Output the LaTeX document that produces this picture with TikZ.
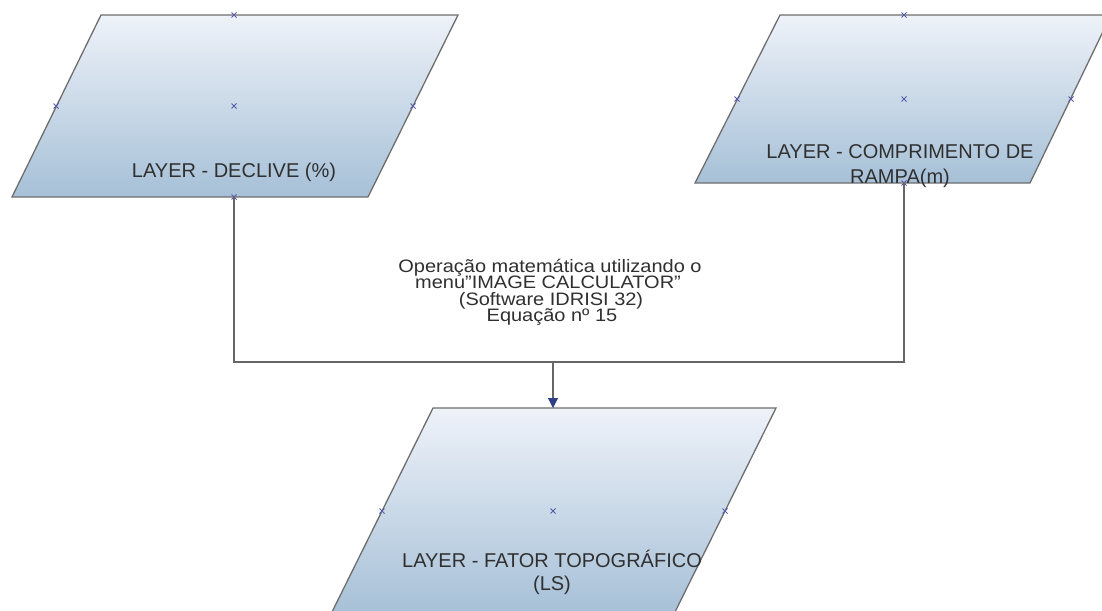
\documentclass[tikz,border=0pt]{standalone}
\usepackage{fontspec}
\setmainfont{Liberation Sans}
\usetikzlibrary{arrows.meta}

\definecolor{edgegray}{HTML}{6E6E6E}
\definecolor{shadetop}{HTML}{EEF2F9}
\definecolor{shademid}{HTML}{D3DFEC}
\definecolor{shadebot}{HTML}{A6C0D7}
\definecolor{handlecol}{HTML}{5A5AAA}
\definecolor{tipblue}{HTML}{2E3F86}
\definecolor{wiregray}{HTML}{666666}
\definecolor{inkgray}{HTML}{303030}

\tikzset{
  layer/.style={draw=edgegray, line width=1.3pt, top color=shadetop,
    middle color=shademid, bottom color=shadebot},
  boxtext/.style={font=\fontsize{20}{25}\selectfont, text=inkgray,
    anchor=base, inner sep=0pt},
  optext/.style={font=\fontsize{18}{20}\selectfont, text=inkgray,
    anchor=base, inner sep=0pt},
  link/.style={draw=wiregray, line width=1.2pt},
  handle/.pic={\draw[handlecol, line width=0.8pt]
    (-2.5pt,-2.5pt) -- (2.5pt,2.5pt) (-2.5pt,2.5pt) -- (2.5pt,-2.5pt);}
}

\newcommand{\wide}[1]{\scalebox{1.11}[1]{#1}}
\newcommand{\dq}{\char"22\relax}

\begin{document}
\begin{tikzpicture}[x=1pt, y=-1pt]
  \clip (0,0) rectangle (1102,610);
  \fill[white] (0,0) rectangle (1102,610);

  % slope layer (top left)
  \path[layer] (12,197) -- (368,197) -- (458,15) -- (101,15) -- cycle;
  \node[boxtext] (slope) at (234,177) {LAYER - DECLIVE (\%)};
  \coordinate (slope-out) at (234,197);
  \foreach \p in {(234,15),(56,106),(234,106),(413,106),(234,197)}
    \pic at \p {handle};

  % ramp length layer (top right)
  \path[layer] (695,183) -- (1030,183) -- (1111,15) -- (780,15) -- cycle;
  \node[boxtext] (ramp1) at (900,158) {LAYER - COMPRIMENTO DE};
  \node[boxtext] (ramp2) at (900,183) {RAMPA(m)};
  \coordinate (ramp-out) at (904,183);
  \foreach \p in {(904,15),(737,99),(904,99),(1071,99),(904,183)}
    \pic at \p {handle};

  % topographic factor layer (bottom)
  \path[layer] (331,614) -- (674,614) -- (776,408) -- (433,408) -- cycle;
  \node[boxtext] (ls1) at (552,567) {LAYER - FATOR TOPOGRÁFICO};
  \node[boxtext] (ls2) at (552,590) {(LS)};
  \coordinate (ls-in) at (553,408);
  \foreach \p in {(382,511),(553,511),(725,511)}
    \pic at \p {handle};

  % operation description
  \node[optext] (op1) at (550,272.5) {\wide{Operação matemática utilizando o}};
  \node[optext] (op2) at (548,288.8) {\wide{menu\dq IMAGE CALCULATOR\dq}};
  \node[optext] (op3) at (551,305.1) {\wide{(Software IDRISI 32)}};
  \node[optext] (op4) at (552,321.4) {\wide{Equação nº 15}};

  % connectors
  \coordinate (join) at (553,362);
  \draw[link] (slope-out) |- (join) -| (ramp-out);
  \draw[link, -{Triangle[length=10pt, width=10pt, color=tipblue]}]
    (join) -- (ls-in);
\end{tikzpicture}
\end{document}
